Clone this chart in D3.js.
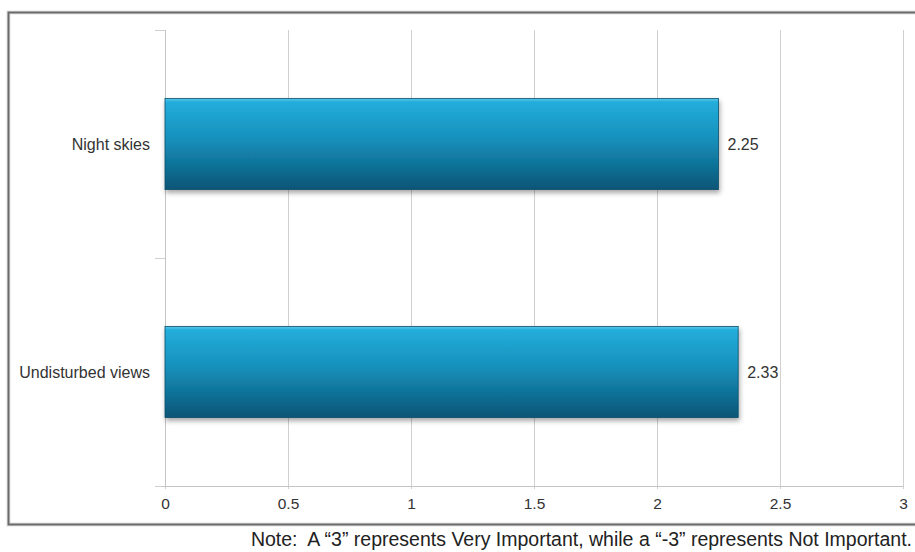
<!DOCTYPE html>
<html>
<head>
<meta charset="utf-8">
<script src="https://cdn.jsdelivr.net/npm/d3@7"></script>
<style>
  body { margin: 0; background: #fff; }
  svg { display: block; font-family: "Liberation Sans", Arial, sans-serif; }
  .grid line { stroke: #d0d0d0; stroke-width: 1; }
  .label { fill: #333; font-size: 16px; }
  .tick-label { fill: #333; font-size: 15.5px; }
  .note { white-space: pre; }
</style>
</head>
<body>
<script>
var width = 915;
var height = 552;

// data
var categories = ['Night skies', 'Undisturbed views'];
var scores = [2.25, 2.33];
var tickValues = [0, 0.5, 1, 1.5, 2, 2.5, 3];
var note = 'Note:  A \u201c3\u201d represents Very Important, while a \u201c-3\u201d represents Not Important.';

var plotLeft = 165;
var plotRight = 903;
var plotTop = 30;
var plotBottom = 486;

var svg = d3.select('body').append('svg')
  .attr('width', width)
  .attr('height', height);

var defs = svg.append('defs');

var grad = defs.append('linearGradient')
  .attr('id', 'barFill')
  .attr('x1', 0).attr('y1', 0).attr('x2', 0).attr('y2', 1);
grad.append('stop').attr('offset', '0%').attr('stop-color', '#5cc8ea');
grad.append('stop').attr('offset', '4%').attr('stop-color', '#23addb');
grad.append('stop').attr('offset', '45%').attr('stop-color', '#1690bb');
grad.append('stop').attr('offset', '100%').attr('stop-color', '#0a5576');

var shadow = defs.append('filter')
  .attr('id', 'barShadow')
  .attr('x', '-5%').attr('y', '-10%').attr('width', '110%').attr('height', '130%');
shadow.append('feDropShadow')
  .attr('dx', 1).attr('dy', 3).attr('stdDeviation', 2.5)
  .attr('flood-color', '#000').attr('flood-opacity', 0.35);

// outer frame (right edge runs off the picture)
var frame = svg.append('g');
frame.append('path')
  .attr('d', 'M' + (width + 5) + ',12.5 H8.5 V524.5 H' + (width + 5))
  .attr('fill', 'none')
  .attr('stroke', '#e2e2e2')
  .attr('stroke-width', 4);
frame.append('path')
  .attr('d', 'M' + (width + 5) + ',12.5 H8.5 V524.5 H' + (width + 5))
  .attr('fill', 'none')
  .attr('stroke', '#6a6a6a')
  .attr('stroke-width', 2);

var x = d3.scaleLinear()
  .domain([0, 3])
  .range([plotLeft, plotRight]);

var y = d3.scaleBand()
  .domain(categories)
  .range([plotTop, plotBottom])
  .paddingInner(0.6)
  .paddingOuter(0.3);

// vertical grid lines
svg.append('g')
  .attr('class', 'grid')
  .selectAll('line')
  .data(tickValues)
  .enter().append('line')
  .attr('x1', function (d) { return x(d) + 0.5; })
  .attr('x2', function (d) { return x(d) + 0.5; })
  .attr('y1', plotTop)
  .attr('y2', plotBottom + 3);

// category separator ticks on the value axis line
var step = y.step();
var bounds = [plotTop, plotTop + step, plotBottom];
svg.append('g')
  .selectAll('line')
  .data(bounds)
  .enter().append('line')
  .attr('x1', plotLeft - 10)
  .attr('x2', plotLeft)
  .attr('y1', function (d) { return Math.round(d) + 0.5; })
  .attr('y2', function (d) { return Math.round(d) + 0.5; })
  .attr('stroke', '#d0d0d0');

svg.append('line')
  .attr('x1', plotLeft + 0.5).attr('x2', plotLeft + 0.5)
  .attr('y1', plotTop).attr('y2', plotBottom)
  .attr('stroke', '#c4c4c4');

// bottom axis
var xAxis = d3.axisBottom(x)
  .tickValues(tickValues)
  .tickSize(0)
  .tickPadding(11)
  .tickFormat(d3.format('~g'));

var axisG = svg.append('g')
  .attr('transform', 'translate(0,' + (plotBottom + 0.5) + ')')
  .call(xAxis);
axisG.select('.domain')
  .attr('d', 'M' + (plotLeft - 3) + ',0H' + plotRight)
  .attr('stroke', '#c4c4c4');
axisG.selectAll('text')
  .attr('class', 'tick-label')
  .attr('font-family', null)
  .attr('font-size', null);

// bars
var bars = svg.append('g');
bars.selectAll('rect')
  .data(scores)
  .enter().append('rect')
  .attr('x', x(0))
  .attr('y', function (d, i) { return y(categories[i]); })
  .attr('width', function (d) { return x(d) - x(0); })
  .attr('height', y.bandwidth())
  .attr('fill', 'url(#barFill)')
  .attr('stroke', '#0b4f6c')
  .attr('stroke-width', 0.8)
  .attr('filter', 'url(#barShadow)');

// value labels
svg.append('g')
  .selectAll('text')
  .data(scores)
  .enter().append('text')
  .attr('class', 'label')
  .attr('x', function (d) { return x(d) + 9; })
  .attr('y', function (d, i) { return y(categories[i]) + y.bandwidth() / 2; })
  .attr('dy', '0.35em')
  .text(function (d) { return d3.format('.2f')(d); });

// category labels
svg.append('g')
  .selectAll('text')
  .data(categories)
  .enter().append('text')
  .attr('class', 'label')
  .attr('x', plotLeft - 15)
  .attr('y', function (d) { return y(d) + y.bandwidth() / 2; })
  .attr('dy', '0.35em')
  .attr('text-anchor', 'end')
  .text(function (d) { return d; });

// footnote
svg.append('text')
  .attr('class', 'note')
  .attr('x', 912)
  .attr('y', 546)
  .attr('text-anchor', 'end')
  .attr('fill', '#222')
  .attr('font-size', '19.5px')
  .text(note);
</script>
</body>
</html>
